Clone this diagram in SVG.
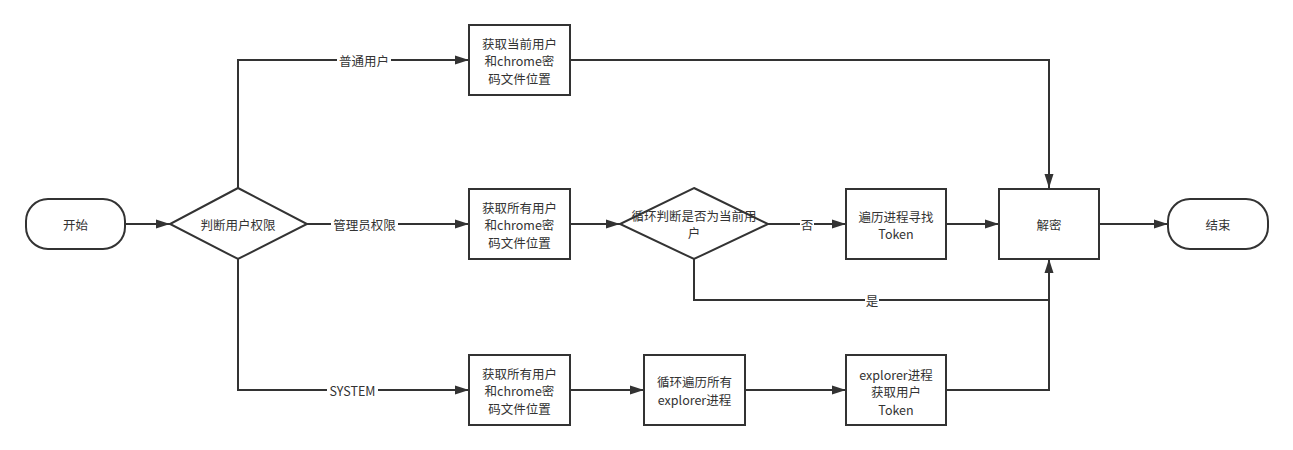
<svg xmlns="http://www.w3.org/2000/svg" width="1293" height="450" viewBox="0 0 1293 450">
<style>
.n{fill:#fff;stroke:#333;stroke-width:2}
.c{fill:none;stroke:#333;stroke-width:2}
.t{font-family:"Noto Sans CJK SC","Noto Sans",sans-serif;font-size:12.5px;fill:#333;text-anchor:middle;dominant-baseline:central}
.bg{fill:#fff}
</style>
<defs>
<marker id="a" viewBox="0 0 14 10" refX="14" refY="5" markerWidth="14" markerHeight="10" markerUnits="userSpaceOnUse" orient="auto">
<path d="M0,0.5 L14,5 L0,9.5 z" fill="#333"/>
</marker>
</defs>
<rect width="1293" height="450" fill="#fff"/>
<g id="connectors">
<path class="c" d="M125,224 H170" marker-end="url(#a)"/>
<path class="c" d="M238,188 V60 H469" marker-end="url(#a)"/>
<path class="c" d="M307,224 H469" marker-end="url(#a)"/>
<path class="c" d="M238,259 V390 H469" marker-end="url(#a)"/>
<path class="c" d="M570,224 H620" marker-end="url(#a)"/>
<path class="c" d="M768,224 H846" marker-end="url(#a)"/>
<path class="c" d="M946,224 H999" marker-end="url(#a)"/>
<path class="c" d="M1099,224 H1168" marker-end="url(#a)"/>
<path class="c" d="M570,60 H1049 V188" marker-end="url(#a)"/>
<path class="c" d="M694,259 V300 H1049 V259" marker-end="url(#a)"/>
<path class="c" d="M570,390 H644" marker-end="url(#a)"/>
<path class="c" d="M745,390 H846" marker-end="url(#a)"/>
<path class="c" d="M946,390 H1049 V262"/>
<rect class="bg" x="337" y="52" width="54" height="16"/>
<text class="t" x="364" y="60">普通用户</text>
<rect class="bg" x="331" y="216" width="67" height="16"/>
<text class="t" x="364.5" y="224">管理员权限</text>
<rect class="bg" x="327" y="382" width="51" height="16"/>
<text class="t" x="352.5" y="390">SYSTEM</text>
<rect class="bg" x="800" y="216" width="14" height="16"/>
<text class="t" x="807" y="224">否</text>
<rect class="bg" x="865" y="292" width="14" height="16"/>
<text class="t" x="872" y="300">是</text>
</g>
<g id="start">
<rect class="n" x="26" y="199" width="99" height="50" rx="22"/>
<text class="t" x="75.5" y="224">开始</text>
</g>
<g id="judge">
<path class="n" d="M238,188 L307,224 L238,259 L170,224 Z"/>
<text class="t" x="238" y="224">判断用户权限</text>
</g>
<g id="normal-box">
<rect class="n" x="469" y="25" width="101" height="70"/>
<text class="t" x="519.5" y="43">获取当前用户</text>
<text class="t" x="519.5" y="60.5">和chrome密</text>
<text class="t" x="519.5" y="78">码文件位置</text>
</g>
<g id="admin-box">
<rect class="n" x="469" y="189" width="101" height="70"/>
<text class="t" x="519.5" y="207">获取所有用户</text>
<text class="t" x="519.5" y="224.5">和chrome密</text>
<text class="t" x="519.5" y="242">码文件位置</text>
</g>
<g id="loop-judge">
<path class="n" d="M694,188 L768,224 L694,259 L620,224 Z"/>
<text class="t" x="694" y="215">循环判断是否为当前用</text>
<text class="t" x="694" y="232">户</text>
</g>
<g id="token-box">
<rect class="n" x="846" y="189" width="100" height="70"/>
<text class="t" x="896" y="216">遍历进程寻找</text>
<text class="t" x="896" y="233">Token</text>
</g>
<g id="decrypt">
<rect class="n" x="999" y="189" width="100" height="70"/>
<text class="t" x="1049" y="224">解密</text>
</g>
<g id="end">
<rect class="n" x="1168" y="199" width="100" height="50" rx="22"/>
<text class="t" x="1218" y="224">结束</text>
</g>
<g id="system-box">
<rect class="n" x="469" y="355" width="101" height="70"/>
<text class="t" x="519.5" y="373">获取所有用户</text>
<text class="t" x="519.5" y="390.5">和chrome密</text>
<text class="t" x="519.5" y="408">码文件位置</text>
</g>
<g id="loop-explorer">
<rect class="n" x="644" y="355" width="101" height="70"/>
<text class="t" x="694.5" y="381">循环遍历所有</text>
<text class="t" x="694.5" y="399">explorer进程</text>
</g>
<g id="explorer-token">
<rect class="n" x="846" y="355" width="100" height="70"/>
<text class="t" x="896" y="374">explorer进程</text>
<text class="t" x="896" y="391.5">获取用户</text>
<text class="t" x="896" y="409">Token</text>
</g>
</svg>
